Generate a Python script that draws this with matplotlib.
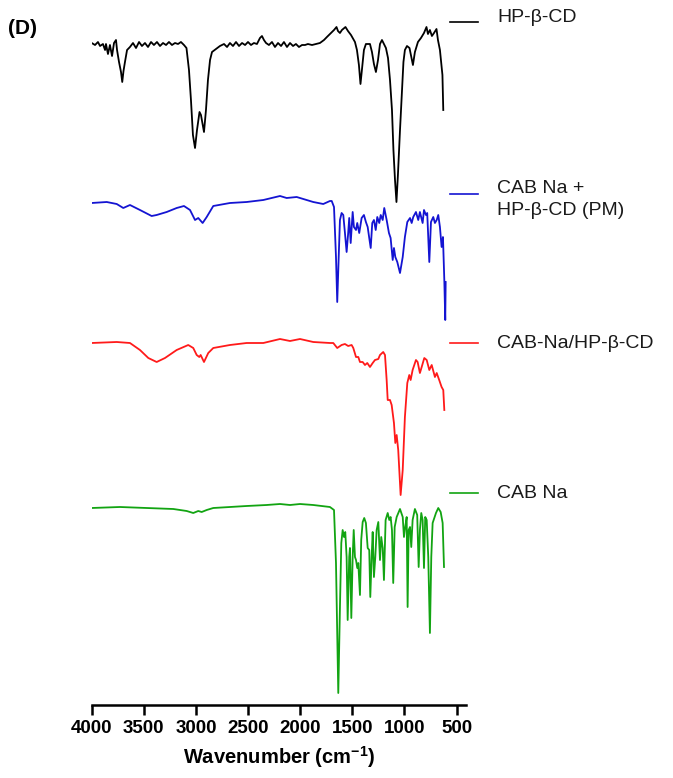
import matplotlib
matplotlib.use("Agg")
import matplotlib.pyplot as plt
from matplotlib.lines import Line2D

plt.rcParams['font.family'] = ['Liberation Sans', 'DejaVu Sans']
plt.rcParams['mathtext.fontset'] = 'custom'
plt.rcParams['mathtext.rm'] = 'Liberation Sans'
plt.rcParams['mathtext.bf'] = 'Liberation Sans:bold'

# ---------------- data (wavenumber, offset intensity in a.u.) ----------------
hp_wn = [4000, 3968, 3940, 3920, 3892, 3872, 3863, 3844, 3825, 3805, 3786, 3767, 3757, 3738,
         3719, 3707, 3695, 3681, 3661, 3633, 3604, 3575, 3546, 3518, 3489, 3460, 3431, 3403,
         3374, 3345, 3316, 3287, 3259, 3230, 3201, 3172, 3144, 3115, 3091, 3067, 3048, 3029,
         3009, 2990, 2966, 2952, 2923, 2904, 2885, 2865, 2846, 2808, 2770, 2731, 2702, 2674,
         2645, 2616, 2587, 2558, 2529, 2501, 2472, 2444, 2415, 2386, 2367, 2348, 2328, 2300,
         2271, 2242, 2213, 2184, 2156, 2127, 2098, 2069, 2041, 2012, 1983, 1954, 1926, 1887,
         1849, 1811, 1772, 1744, 1705, 1676, 1652, 1638, 1619, 1600, 1566, 1542, 1513, 1475,
         1456, 1437, 1422, 1408, 1389, 1370, 1331, 1312, 1293, 1274, 1254, 1235, 1216, 1197,
         1178, 1158, 1139, 1120, 1106, 1091, 1077, 1063, 1043, 1024, 1010, 996, 976, 952,
         938, 919, 900, 871, 842, 813, 789, 775, 756, 737, 717, 693, 679, 660, 645, 636, 628]
hp_y = [662, 660, 663, 659, 661, 655, 661, 651, 660, 649, 662, 665, 655, 643,
        633, 623, 634, 643, 655, 658, 662, 657, 663, 659, 662, 658, 663, 660,
        663, 659, 662, 660, 663, 660, 662, 661, 663, 660, 657, 635, 605, 570,
        557, 575, 593, 590, 573, 595, 625, 645, 653, 656, 659, 661, 658, 662,
        659, 663, 659, 662, 660, 663, 660, 662, 661, 667, 669, 665, 662, 660,
        663, 658, 662, 659, 663, 658, 662, 659, 661, 658, 660, 660, 661, 660,
        661, 662, 665, 668, 672, 675, 678, 674, 672, 675, 678, 674, 670, 663,
        655, 640, 621, 635, 655, 661, 661, 653, 641, 633, 645, 661, 665, 661,
        657, 647, 625, 595, 555, 525, 503, 530, 575, 615, 643, 655, 659, 657,
        650, 640, 653, 663, 667, 672, 678, 671, 675, 669, 672, 676, 665, 655, 640, 630, 595]

pm_wn = [4000, 3856, 3760, 3697, 3633, 3537, 3425, 3377, 3281, 3185, 3115, 3057, 3009, 2978,
         2936, 2897, 2834, 2674, 2514, 2354, 2194, 2130, 2034, 1875, 1779, 1715, 1698, 1676,
         1657, 1645, 1631, 1619, 1603, 1587, 1571, 1555, 1540, 1530, 1516, 1497, 1485, 1465,
         1453, 1434, 1411, 1389, 1370, 1353, 1338, 1324, 1309, 1293, 1276, 1261, 1242, 1228,
         1209, 1194, 1171, 1149, 1133, 1113, 1101, 1088, 1069, 1043, 1017, 996, 973, 947,
         931, 916, 890, 868, 852, 826, 813, 794, 782, 762, 746, 724, 708, 691, 676, 660,
         644, 631, 618, 609, 605]
pm_y = [502, 503, 501, 497, 500, 495, 489, 490, 493, 497, 499, 495, 485, 487,
        482, 488, 499, 502, 503, 505, 509, 507, 508, 503, 501, 504, 504, 498,
        448, 403, 448, 485, 492, 490, 472, 453, 472, 487, 462, 493, 478, 475,
        482, 472, 487, 490, 483, 478, 467, 457, 482, 485, 475, 488, 482, 490,
        485, 497, 485, 472, 467, 445, 457, 448, 443, 432, 448, 468, 483, 487,
        482, 488, 493, 485, 493, 482, 495, 490, 492, 443, 483, 488, 482, 485, 490, 478,
        458, 468, 425, 385, 423]

ic_wn = [4000, 3760, 3633, 3537, 3457, 3377, 3297, 3185, 3074, 3026, 2993, 2968, 2955, 2923,
         2882, 2834, 2674, 2514, 2354, 2194, 2098, 2002, 1875, 1715, 1683, 1645, 1603, 1571,
         1540, 1507, 1491, 1465, 1443, 1427, 1401, 1379, 1357, 1331, 1305, 1283, 1251, 1235,
         1204, 1187, 1171, 1161, 1139, 1123, 1101, 1088, 1075, 1060, 1037, 1017, 996, 973,
         954, 941, 922, 890, 874, 852, 835, 810, 787, 762, 739, 708, 691, 667, 644, 628, 618]
ic_y = [362, 363, 362, 355, 347, 343, 347, 355, 360, 357, 350, 348, 350, 343,
        352, 357, 360, 362, 362, 366, 364, 366, 363, 362, 362, 357, 360, 361,
        359, 360, 357, 348, 348, 343, 343, 340, 342, 338, 342, 345, 346, 350,
        353, 350, 325, 305, 305, 300, 282, 262, 270, 255, 210, 235, 288, 322,
        330, 325, 335, 345, 343, 332, 338, 347, 345, 335, 340, 328, 332, 325, 318, 315, 295]

cab_wn = [4000, 3729, 3473, 3217, 3089, 3026, 2978, 2945, 2897, 2834, 2674, 2514, 2322, 2194,
          2098, 2002, 1875, 1715, 1676, 1657, 1635, 1619, 1606, 1593, 1580, 1568, 1555, 1545,
          1530, 1523, 1510, 1497, 1487, 1475, 1465, 1453, 1443, 1427, 1415, 1401, 1386, 1370,
          1353, 1338, 1328, 1315, 1305, 1293, 1280, 1267, 1251, 1235, 1223, 1209, 1197, 1181,
          1161, 1146, 1133, 1120, 1108, 1094, 1075, 1043, 1017, 1005, 993, 979, 970, 960,
          947, 935, 922, 900, 878, 864, 852, 839, 826, 813, 801, 787, 772, 756, 743, 730,
          714, 698, 676, 653, 634, 621]
cab_y = [197, 198, 197, 196, 194, 192, 194, 193, 195, 197, 198, 199, 200, 201,
         200, 201, 200, 198, 195, 142, 12, 98, 162, 175, 168, 173, 148, 85,
         148, 157, 87, 148, 175, 148, 145, 137, 142, 110, 165, 183, 187, 182,
         157, 155, 108, 148, 173, 128, 148, 175, 183, 145, 168, 157, 125, 185,
         192, 185, 188, 175, 122, 178, 188, 196, 188, 168, 178, 188, 98, 175,
         178, 158, 185, 196, 190, 138, 175, 192, 185, 137, 188, 185, 148, 72, 148, 182,
         187, 192, 197, 193, 182, 138]

series = [
    (hp_wn, hp_y, 'black', 'HP-\u03b2-CD'),
    (pm_wn, pm_y, '#1414d2', 'CAB Na +\nHP-\u03b2-CD (PM)'),
    (ic_wn, ic_y, '#ff1a1a', 'CAB-Na/HP-\u03b2-CD'),
    (cab_wn, cab_y, '#12a412', 'CAB Na'),
]
xticks = [4000, 3500, 3000, 2500, 2000, 1500, 1000, 500]

# ---------------- figure ----------------
W, H = 673, 778
fig = plt.figure(figsize=(W / 100, H / 100), dpi=100)
ax = fig.add_axes([91.7 / W, 1 - 705 / H, (466 - 91.7) / W, (705 - 20) / H])

for wn, y, c, lab in series:
    ax.plot(wn, y, color=c, lw=1.3)

ax.set_xlim(4000, 410)
ax.set_ylim(0, 685)
ax.set_xticks(xticks)
ax.set_xticklabels([str(t) for t in xticks], fontsize=13.5, fontweight='bold')
ax.set_yticks([])
for s in ['left', 'top', 'right']:
    ax.spines[s].set_visible(False)
ax.spines['bottom'].set_linewidth(1.8)
ax.tick_params(axis='x', width=1.8, length=7, pad=4)
ax.set_xlabel(r'Wavenumber (cm$^{\mathbf{-1}}$)', fontsize=14.5, fontweight='bold', labelpad=5)

# labels on the right (legend-style)
label_pos = [(22, 18), (194, 187), (343, 343), (493, 493)]
for (wn, y, c, lab), (ly, ty) in zip(series, label_pos):
    fig.add_artist(Line2D([450 / W, 478 / W], [1 - ly / H, 1 - ly / H], color=c, lw=1.2))
    two = '\n' in lab
    va = 'top' if two else 'center'
    tyy = ty - 7 if two else ty
    fig.text(497 / W, 1 - tyy / H, lab, fontsize=14, va=va, ha='left', color='#1a1a1a',
             linespacing=1.4)

fig.text(8 / W, 1 - 28 / H, '(D)', fontsize=15, fontweight='bold', va='center', ha='left')

fig.savefig('out.png', dpi=100)
